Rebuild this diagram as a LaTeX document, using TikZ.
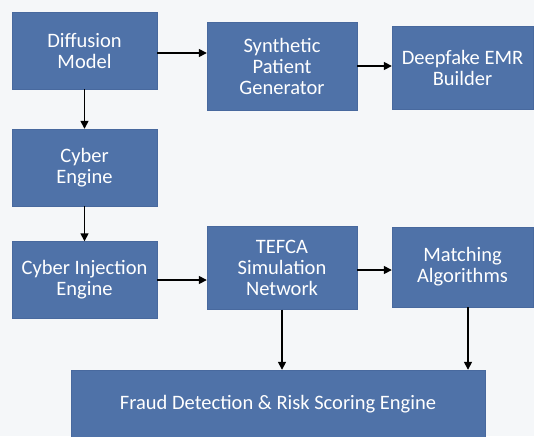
\documentclass[tikz,border=0pt]{standalone}
\usepackage{fontspec}
\setmainfont{Carlito}
\usetikzlibrary{arrows.meta}

\tikzset{
  blk/.style={fill={rgb, 255:red, 79; green, 114; blue, 168}, draw={rgb, 255:red, 72; green, 105; blue, 158}, text=white, align=center, inner sep=0pt, font=\fontsize{20.5}{21}\selectfont},
  arr/.style={-{Triangle[length=8pt,width=8pt]}, line width=1.5pt, color=black}
}

\begin{document}
\begin{tikzpicture}[x=1pt,y=1pt,yscale=-1,xscale=1]
%set diagram to the size of the reference
\fill [color={rgb, 255:red, 245; green, 247; blue, 249}] (0,0) rectangle (534,436);
\useasboundingbox (0,0) rectangle (534,436);

%Shape: Rectangle [diffusion]
\node [blk, minimum width=145, minimum height=77] (diff) at (84.5,50.5) {Diffusion\\Model};
%Shape: Rectangle [synthetic patients]
\node [blk, minimum width=150, minimum height=88] (synth) at (282,66) {Synthetic\\Patient\\Generator};
%Shape: Rectangle [deepfake]
\node [blk, minimum width=141, minimum height=83] (deep) at (462.5,67.5) {Deepfake EMR\\Builder};
%Shape: Rectangle [cyber]
\node [blk, minimum width=145, minimum height=77] (cyber) at (84.5,167.5) {Cyber\\Engine};
%Shape: Rectangle [injection]
\node [blk, minimum width=145, minimum height=77] (inj) at (84.5,280) {Cyber Injection\\Engine};
%Shape: Rectangle [tefca]
\node [blk, minimum width=150, minimum height=83] (tefca) at (282,268) {TEFCA\\Simulation\\Network};
%Shape: Rectangle [matching]
\node [blk, minimum width=141, minimum height=80] (match) at (462.5,267) {Matching\\Algorithms};
%Shape: Rectangle [fraud]
\node [blk, minimum width=414, minimum height=68] (fraud) at (278,404) {Fraud Detection \& Risk Scoring Engine};

%Straight Lines
\draw [arr] (diff.east |- 0,53) -- (synth.west |- 0,53);
\draw [arr] (synth.east |- 0,66) -- (deep.west |- 0,66);
\draw [arr] (diff) -- (cyber);
\draw [arr] (cyber) -- (inj);
\draw [arr] (inj.east) -- (inj.east -| tefca.west);
\draw [arr] (tefca.east |- 0,270) -- (match.west |- 0,270);
\draw [arr] (tefca) -- (tefca |- fraud.north);
\draw [arr] (match.south -| 468,0) -- (fraud.north -| 468,0);

\end{tikzpicture}
\end{document}
